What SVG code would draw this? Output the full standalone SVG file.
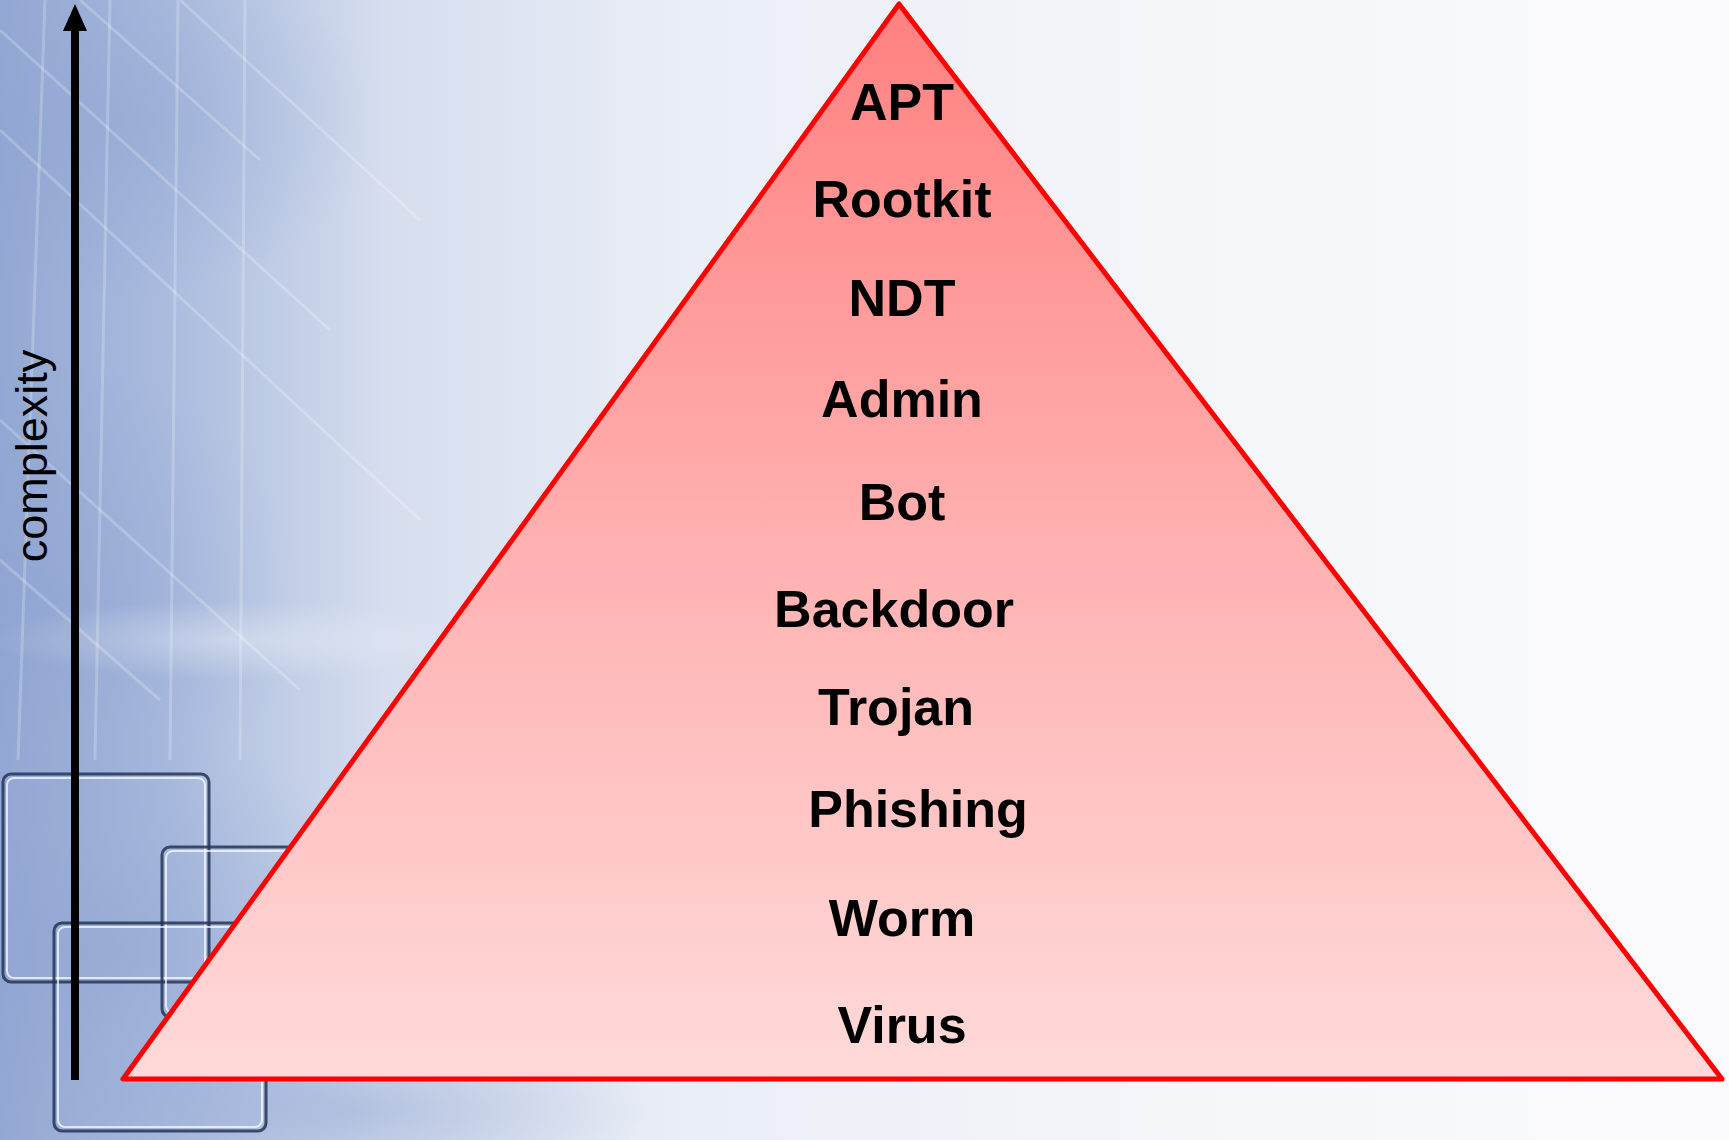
<svg xmlns="http://www.w3.org/2000/svg" width="1729" height="1140" viewBox="0 0 1729 1140">
  <defs>
    <linearGradient id="bgH" x1="0" y1="0" x2="1729" y2="0" gradientUnits="userSpaceOnUse">
      <stop offset="0" stop-color="#93a8d3"/>
      <stop offset="0.1" stop-color="#abbcde"/>
      <stop offset="0.22" stop-color="#d5ddee"/>
      <stop offset="0.4" stop-color="#eaeef6"/>
      <stop offset="0.7" stop-color="#f5f6fa"/>
      <stop offset="1" stop-color="#fbfbfd"/>
    </linearGradient>
    <radialGradient id="blueBlob" cx="0.5" cy="0.5" r="0.5">
      <stop offset="0" stop-color="#8aa0cf" stop-opacity="0.45"/>
      <stop offset="1" stop-color="#8aa0cf" stop-opacity="0"/>
    </radialGradient>
    <radialGradient id="whiteBlob" cx="0.5" cy="0.5" r="0.5">
      <stop offset="0" stop-color="#ffffff" stop-opacity="0.35"/>
      <stop offset="1" stop-color="#ffffff" stop-opacity="0"/>
    </radialGradient>
    <linearGradient id="pyr" x1="0" y1="3" x2="0" y2="1080" gradientUnits="userSpaceOnUse">
      <stop offset="0" stop-color="#ff8080"/>
      <stop offset="0.5" stop-color="#ffb0b0"/>
      <stop offset="1" stop-color="#ffdada"/>
    </linearGradient>
    <marker id="arrowHead" markerUnits="userSpaceOnUse" markerWidth="28" markerHeight="26" refX="1" refY="13" orient="auto" viewBox="0 0 28 26">
      <path d="M0,1 L27,13 L0,25 Z" fill="#000"/>
    </marker>
    <style>
      .lbl { font-family: "Liberation Sans", Arial, sans-serif; font-weight: bold; font-size: 52px; fill: #000; text-anchor: middle; }
      .axis { font-family: "Liberation Sans", Arial, sans-serif; font-size: 45px; fill: #000; text-anchor: middle; }
      .grid { stroke: #ffffff; stroke-opacity: 0.22; stroke-width: 3; fill: none; }
      .box { fill: none; stroke: #243556; stroke-width: 3; stroke-opacity: 0.85; }
      .boxHi { fill: none; stroke: #ffffff; stroke-opacity: 0.7; stroke-width: 2; }
    </style>
  </defs>

  <g id="background">
    <rect x="0" y="0" width="1729" height="1140" fill="url(#bgH)"/>
    <ellipse cx="60" cy="600" rx="240" ry="240" fill="url(#blueBlob)"/>
    <ellipse cx="120" cy="950" rx="300" ry="220" fill="url(#blueBlob)"/>
    <ellipse cx="350" cy="1110" rx="300" ry="90" fill="url(#blueBlob)"/>
    <ellipse cx="120" cy="120" rx="260" ry="180" fill="url(#blueBlob)"/>
    <ellipse cx="230" cy="640" rx="240" ry="40" fill="url(#whiteBlob)"/>
    <line class="grid" x1="0" y1="30" x2="330" y2="330"/>
    <line class="grid" x1="0" y1="130" x2="420" y2="520"/>
    <line class="grid" x1="0" y1="420" x2="300" y2="690"/>
    <line class="grid" x1="80" y1="0" x2="260" y2="160"/>
    <line class="grid" x1="180" y1="0" x2="420" y2="220"/>
    <line class="grid" x1="0" y1="560" x2="160" y2="700"/>
    <line class="grid" x1="45" y1="0" x2="18" y2="760"/>
    <line class="grid" x1="110" y1="0" x2="95" y2="760"/>
    <line class="grid" x1="178" y1="0" x2="170" y2="760"/>
    <line class="grid" x1="245" y1="0" x2="240" y2="760"/>
    <rect class="box" x="3" y="774" width="206" height="208" rx="8"/>
    <rect class="boxHi" x="7" y="778" width="198" height="200" rx="7"/>
    <rect class="box" x="162" y="847" width="140" height="170" rx="8"/>
    <rect class="boxHi" x="166" y="851" width="132" height="162" rx="7"/>
    <rect class="box" x="54" y="923" width="212" height="208" rx="8"/>
    <rect class="boxHi" x="58" y="927" width="204" height="200" rx="7"/>
  </g>

  <g id="pyramid">
    <polygon points="899,4 123,1079 1722,1079" fill="url(#pyr)" stroke="#ff0000" stroke-width="5" stroke-linejoin="round"/>
  </g>

  <g id="labels">
    <g id="node-apt"><text class="lbl" x="902" y="120">APT</text></g>
    <g id="node-rootkit"><text class="lbl" x="902" y="217">Rootkit</text></g>
    <g id="node-ndt"><text class="lbl" x="902" y="316">NDT</text></g>
    <g id="node-admin"><text class="lbl" x="902" y="417">Admin</text></g>
    <g id="node-bot"><text class="lbl" x="902" y="520">Bot</text></g>
    <g id="node-backdoor"><text class="lbl" x="894" y="627">Backdoor</text></g>
    <g id="node-trojan"><text class="lbl" x="896" y="725">Trojan</text></g>
    <g id="node-phishing"><text class="lbl" x="918" y="827">Phishing</text></g>
    <g id="node-worm"><text class="lbl" x="902" y="936">Worm</text></g>
    <g id="node-virus"><text class="lbl" x="902" y="1043">Virus</text></g>
  </g>

  <g id="connectors">
    <line x1="75" y1="1080" x2="75" y2="30" stroke="#000" stroke-width="8" marker-end="url(#arrowHead)"/>
  </g>

  <g id="axis-label">
    <text class="axis" transform="translate(47,456) rotate(-90)">complexity</text>
  </g>
</svg>
